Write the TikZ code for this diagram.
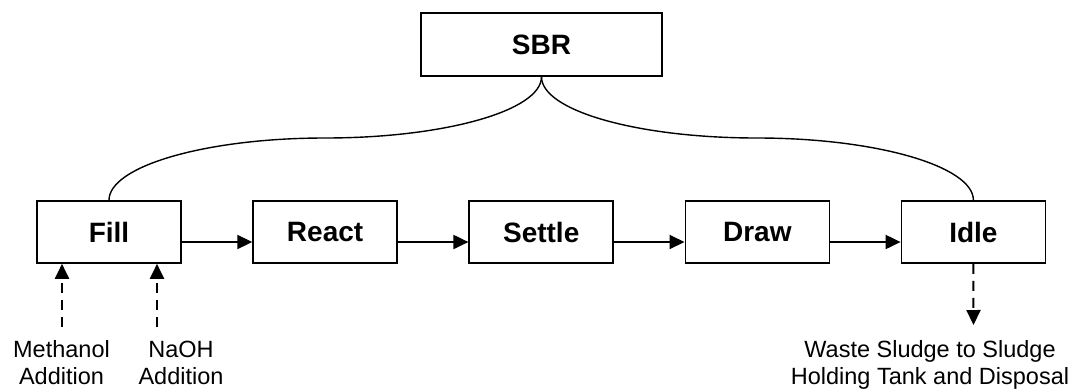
\documentclass[tikz,border=0pt]{standalone}
\usepackage{fontspec}
\setmainfont{Liberation Sans}
\usetikzlibrary{arrows.meta, positioning}

\begin{document}
\begin{tikzpicture}[x=1pt, y=-1pt, node distance=70.5pt,
    phase/.style={draw, line width=1.6pt, minimum width=144pt, minimum height=62pt, inner sep=0pt, font=\fontsize{28}{32}\selectfont\bfseries},
    flow/.style={-{Triangle[length=15pt, width=14pt]}, line width=2pt},
    feed/.style={-{Triangle[length=15pt, width=14pt]}, line width=2pt, dash pattern=on 10pt off 7pt},
    note/.style={align=center, inner sep=0pt, font=\fontsize{23.5}{27}\selectfont},
    link/.style={line width=1.4pt}]
  \useasboundingbox (0,0) rectangle (1071,389);

  % reactor and its five phases
  \node[phase, minimum width=241pt, minimum height=63pt] (sbr) at (541.5,44.5) {SBR};
  \node[phase] (fill) at (109,232) {Fill};
  \node[phase, right=of fill] (react) {React};
  \node[phase, right=of react] (settle) {Settle};
  \node[phase, right=of settle] (draw) {Draw};
  \node[phase, right=of draw] (idle) {Idle};

  % cycle order
  \draw[flow] ([yshift=-10pt]fill.east) -- ([yshift=-10pt]react.west);
  \draw[flow] ([yshift=-10pt]react.east) -- ([yshift=-10pt]settle.west);
  \draw[flow] ([yshift=-10pt]settle.east) -- ([yshift=-10pt]draw.west);
  \draw[flow] ([yshift=-10pt]draw.east) -- ([yshift=-10pt]idle.west);

  % brace from SBR to first and last phase
  \coordinate (dipl) at (325,138);
  \coordinate (dipr) at (757,138);
  \draw[link] (fill.north) .. controls +(0,-34) and +(-119,0) .. (dipl)
    .. controls +(119,0) and +(0,34) .. (sbr.south);
  \draw[link] (sbr.south) .. controls +(0,34) and +(-119,0) .. (dipr)
    .. controls +(119,0) and +(0,-34) .. (idle.north);

  % chemical dosing and sludge wasting
  \node[note, anchor=base] (meoh) at (61.5,384) {Methanol\\Addition};
  \node[note, anchor=base] (naoh) at (181,384) {NaOH\\Addition};
  \node[note, anchor=base] (waste) at (930,384) {Waste Sludge to Sludge\\Holding Tank and Disposal};
  \coordinate (meohin) at (62,327);
  \coordinate (naohin) at (157,327);
  \coordinate (wasteout) at (973.5,325);
  \draw[feed] (meohin) -- (meohin |- fill.south);
  \draw[feed] (naohin) -- (naohin |- fill.south);
  \draw[feed] (idle.south) -- (wasteout);
\end{tikzpicture}
\end{document}
